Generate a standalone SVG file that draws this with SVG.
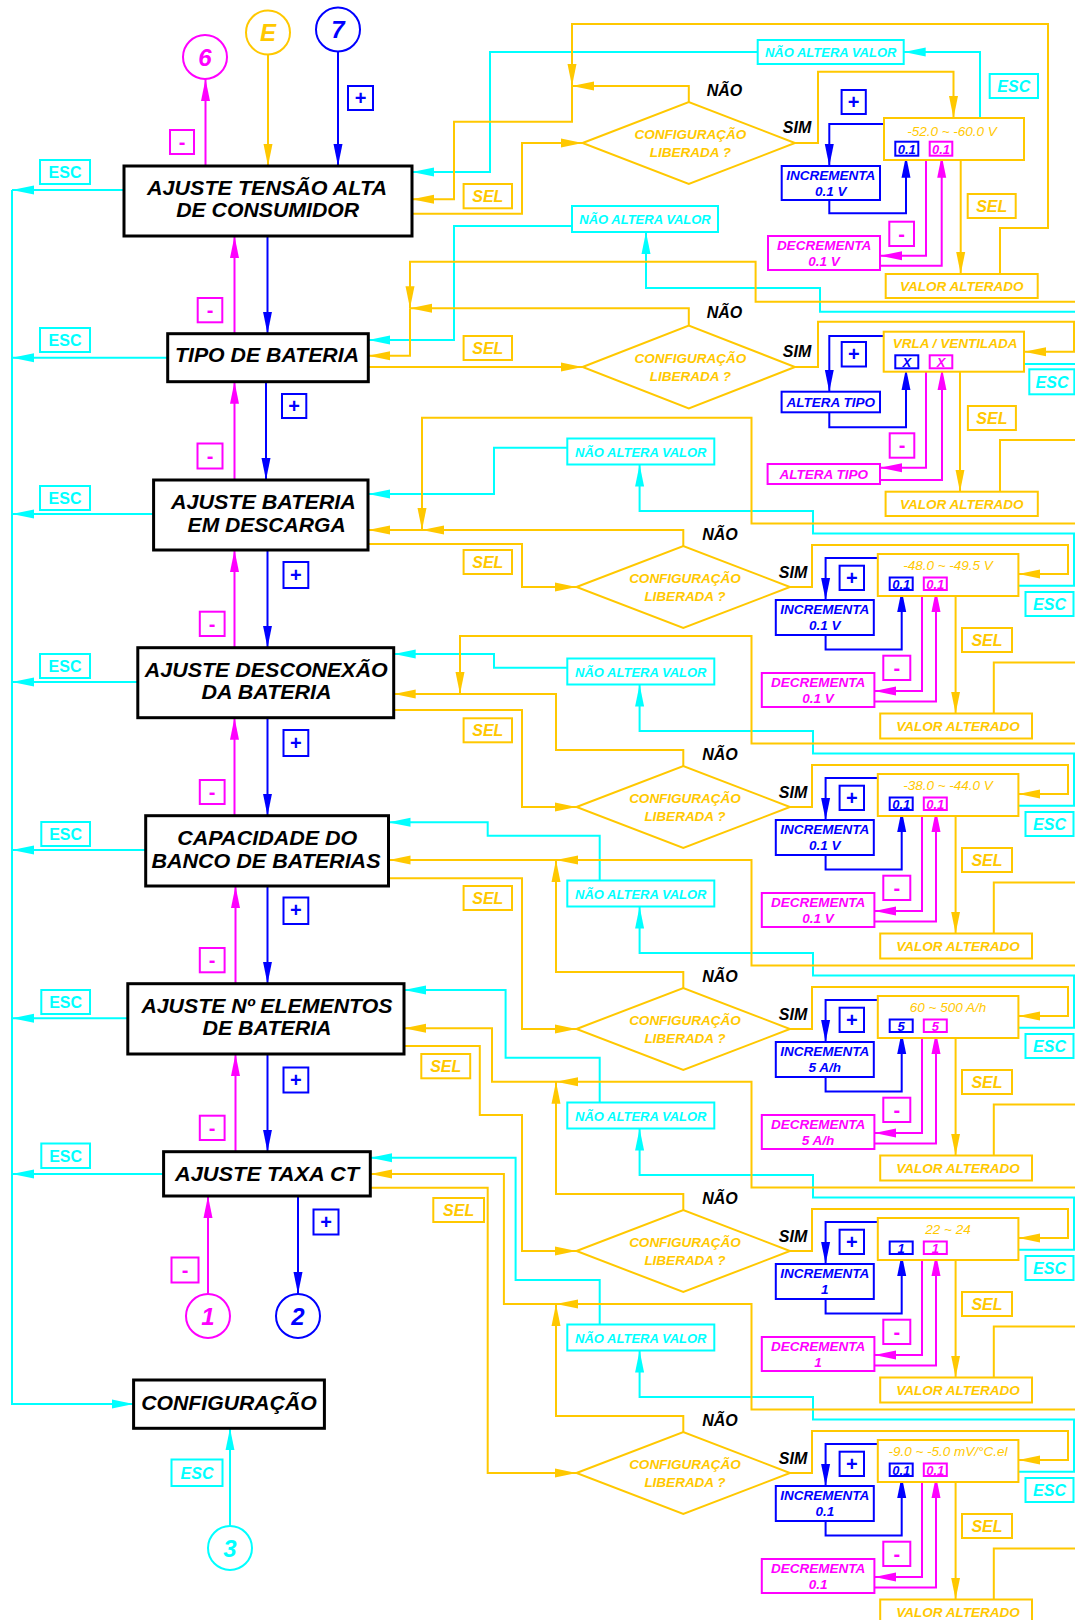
<svg xmlns="http://www.w3.org/2000/svg" width="1075" height="1620" viewBox="0 0 1075 1620">
<defs>
<style>
.ln{fill:none;stroke-width:2}
.kc{stroke:#00FFFF}.ky{stroke:#FFC800}.kb{stroke:#0000FF}.km{stroke:#FF00FF}
.nd{fill:#fff;stroke:#000;stroke-width:3}
.bx{fill:#fff;stroke-width:2}
.dm{fill:#fff;stroke:#FFC800;stroke-width:2}
.cir{fill:#fff;stroke-width:2}
text{font-family:"Liberation Sans",Arial,Helvetica,sans-serif;font-weight:bold;font-style:italic;text-anchor:middle}
.tt{font-size:21px;fill:#000}
.tc{fill:#00FFFF}.ty{fill:#FFC800}.tb{fill:#0000FF}.tm{fill:#FF00FF}.tk{fill:#000}
.esc{font-size:16px;fill:#00FFFF}
.up{font-style:normal}
.sel{font-size:16px;fill:#FFC800}
.pm{font-size:20px;font-style:normal}
.s13{font-size:13.5px}
.nav{font-size:13px;fill:#00FFFF}
.val{font-size:13.5px;fill:#FFC800;font-weight:normal}
.sm{font-size:13px}
.yn{font-size:16px;fill:#000}
.num{font-size:24px}
</style>
<marker id="ac" viewBox="0 0 22 10" markerWidth="22" markerHeight="10" refX="22" refY="5" orient="auto" markerUnits="userSpaceOnUse"><path d="M0,0.5L22,5L0,9.5z" fill="#00FFFF"/></marker>
<marker id="ay" viewBox="0 0 22 10" markerWidth="22" markerHeight="10" refX="22" refY="5" orient="auto" markerUnits="userSpaceOnUse"><path d="M0,0.5L22,5L0,9.5z" fill="#FFC800"/></marker>
<marker id="ab" viewBox="0 0 22 10" markerWidth="22" markerHeight="10" refX="22" refY="5" orient="auto" markerUnits="userSpaceOnUse"><path d="M0,0.5L22,5L0,9.5z" fill="#0000FF"/></marker>
<marker id="am" viewBox="0 0 22 10" markerWidth="22" markerHeight="10" refX="22" refY="5" orient="auto" markerUnits="userSpaceOnUse"><path d="M0,0.5L22,5L0,9.5z" fill="#FF00FF"/></marker>
</defs>
<rect width="1075" height="1620" fill="#fff"/>

<!-- ===== connectors ===== -->
<g id="connectors">
  <!-- ESC spine on the left -->
  <path class="ln kc" d="M12,190 V1404 H133.6" marker-end="url(#ac)"/>
  <path class="ln kc" d="M124,190 H12" marker-end="url(#ac)"/>
  <path class="ln kc" d="M167.7,357.7 H12" marker-end="url(#ac)"/>
  <path class="ln kc" d="M153.6,514 H12" marker-end="url(#ac)"/>
  <path class="ln kc" d="M137.8,682 H12" marker-end="url(#ac)"/>
  <path class="ln kc" d="M145.7,850 H12" marker-end="url(#ac)"/>
  <path class="ln kc" d="M127.8,1018.3 H12" marker-end="url(#ac)"/>
  <path class="ln kc" d="M163.6,1174 H12" marker-end="url(#ac)"/>

  <!-- menu navigation: + down, - up -->
  <path class="ln kb" d="M267.5,236 V333.7" marker-end="url(#ab)"/>
  <path class="ln kb" d="M266,381.7 V480" marker-end="url(#ab)"/>
  <path class="ln kb" d="M267.5,550 V647.7" marker-end="url(#ab)"/>
  <path class="ln kb" d="M267.5,717.7 V815.7" marker-end="url(#ab)"/>
  <path class="ln kb" d="M267.5,886 V983.7" marker-end="url(#ab)"/>
  <path class="ln kb" d="M267.5,1054 V1151.7" marker-end="url(#ab)"/>
  <path class="ln km" d="M234.5,333.7 V236" marker-end="url(#am)"/>
  <path class="ln km" d="M234.5,480 V381.7" marker-end="url(#am)"/>
  <path class="ln km" d="M234.5,647.7 V550" marker-end="url(#am)"/>
  <path class="ln km" d="M234.5,815.7 V717.7" marker-end="url(#am)"/>
  <path class="ln km" d="M235.5,983.7 V886" marker-end="url(#am)"/>
  <path class="ln km" d="M235.5,1151.7 V1054" marker-end="url(#am)"/>
  <path class="ln km" d="M205.5,166 V79" marker-end="url(#am)"/>
  <path class="ln ky" d="M268,54.5 V166" marker-end="url(#ay)"/>
  <path class="ln kb" d="M338,51.5 V166" marker-end="url(#ab)"/>
  <path class="ln km" d="M208,1294 V1196" marker-end="url(#am)"/>
  <path class="ln kb" d="M298,1196 V1294" marker-end="url(#ab)"/>
  <path class="ln kc" d="M230,1526 V1428.3" marker-end="url(#ac)"/>

  <!-- section 1 -->
  <path class="ln kc" d="M757.7,52 H490 V172 H412" marker-end="url(#ac)"/>
  <path class="ln kc" d="M980,118 V52 H903.7" marker-end="url(#ac)"/>
  <path class="ln ky" d="M1000,274 V228 H1048 V24 H572 V86" marker-end="url(#ay)"/>
  <path class="ln ky" d="M688.8,102 V86 H572" marker-end="url(#ay)"/>
  <path class="ln ky" d="M572,86 V121.7 H454 V199.3 H412" marker-end="url(#ay)"/>
  <path class="ln ky" d="M412,213.7 H522 V143 H582.6" marker-end="url(#ay)"/>
  <path class="ln ky" d="M795,143 H818 V71.7 H953.5 V118" marker-end="url(#ay)"/>
  <path class="ln kb" d="M884,124 H829.3 V166" marker-end="url(#ab)"/>
  <path class="ln kb" d="M829.3,200 V213.3 H906 V155.7" marker-end="url(#ab)"/>
  <path class="ln km" d="M926,160 V255.7 H880" marker-end="url(#am)"/>
  <path class="ln km" d="M880,265.7 H941.7 V155.7" marker-end="url(#am)"/>
  <path class="ln ky" d="M960.7,160 V274" marker-end="url(#ay)"/>

  <!-- section 2 -->
  <path class="ln kc" d="M572,226 H454 V340 H368.3" marker-end="url(#ac)"/>
  <path class="ln kc" d="M1075,311.7 H820 V288 H646 V232" marker-end="url(#ac)"/>
  <path class="ln kc" d="M1024,364 H1075"/>
  <path class="ln ky" d="M1075,301.7 H755.6 V261.7 H410 V308.3" marker-end="url(#ay)"/>
  <path class="ln ky" d="M688.8,325.5 V308.3 H410" marker-end="url(#ay)"/>
  <path class="ln ky" d="M410,308.3 V355.7 H368.3" marker-end="url(#ay)"/>
  <path class="ln ky" d="M368.3,367 H582.6" marker-end="url(#ay)"/>
  <path class="ln ky" d="M795,367 H818 V321.7 H1074 V351.7 H1024" marker-end="url(#ay)"/>
  <path class="ln kb" d="M883.7,336 H829.3 V391.7" marker-end="url(#ab)"/>
  <path class="ln kb" d="M829.3,412.3 V427.3 H906 V368.3" marker-end="url(#ab)"/>
  <path class="ln km" d="M926,371.7 V467.7 H880" marker-end="url(#am)"/>
  <path class="ln km" d="M880,480 H942 V368.3" marker-end="url(#am)"/>
  <path class="ln ky" d="M960,371.7 V491.7" marker-end="url(#ay)"/>
  <path class="ln ky" d="M1000,491.7 V440 H1075"/>

  <!-- section 3 -->
  <path class="ln kc" d="M567.3,447.7 H494 V494 H368" marker-end="url(#ac)"/>
  <path class="ln kc" d="M1018.4,585.7 H1074 V533.5 H813 V511 H639.6 V464.5" marker-end="url(#ac)"/>
  <path class="ln ky" d="M1075,523.5 H751.5 V417.7 H422 V530" marker-end="url(#ay)"/>
  <path class="ln ky" d="M683.3,546 V530 H422" marker-end="url(#ay)"/>
  <path class="ln ky" d="M422,530 H368" marker-end="url(#ay)"/>
  <path class="ln ky" d="M368,544 H522 V587 H576.5" marker-end="url(#ay)"/>
  <path class="ln ky" d="M790,587 H812 V545 H1068 V574 H1018.4" marker-end="url(#ay)"/>
  <path class="ln kb" d="M877.8,558 H825.6 V600" marker-end="url(#ab)"/>
  <path class="ln kb" d="M825.6,635 V649.5 H901.7 V590" marker-end="url(#ab)"/>
  <path class="ln km" d="M922,596 V691 H874.4" marker-end="url(#am)"/>
  <path class="ln km" d="M874.4,701.5 H936 V590" marker-end="url(#am)"/>
  <path class="ln ky" d="M955.6,596 V713.5" marker-end="url(#ay)"/>
  <path class="ln ky" d="M993.8,713.5 V662.5 H1075"/>

  <!-- section 4 -->
  <path class="ln kc" d="M567.3,667.7 H494 V654 H393.7" marker-end="url(#ac)"/>
  <path class="ln kc" d="M1018.4,805.7 H1074 V753.5 H813 V731 H639.6 V684.5" marker-end="url(#ac)"/>
  <path class="ln ky" d="M1075,743.5 H751.5 V636 H460 V694" marker-end="url(#ay)"/>
  <path class="ln ky" d="M683.3,766 V750 H556 V694 H393.7" marker-end="url(#ay)"/>
  <path class="ln ky" d="M393.7,710 H522 V807 H576.5" marker-end="url(#ay)"/>
  <path class="ln ky" d="M790,807 H812 V765 H1068 V794 H1018.4" marker-end="url(#ay)"/>
  <path class="ln kb" d="M877.8,778 H825.6 V820" marker-end="url(#ab)"/>
  <path class="ln kb" d="M825.6,855 V869.5 H901.7 V810" marker-end="url(#ab)"/>
  <path class="ln km" d="M922,816 V911 H874.4" marker-end="url(#am)"/>
  <path class="ln km" d="M874.4,921.5 H936 V810" marker-end="url(#am)"/>
  <path class="ln ky" d="M955.6,816 V933.5" marker-end="url(#ay)"/>
  <path class="ln ky" d="M993.8,933.5 V882.5 H1075"/>

  <!-- section 5 -->
  <path class="ln kc" d="M599.7,880.5 V835.7 H487.7 V822.3 H388.5" marker-end="url(#ac)"/>
  <path class="ln kc" d="M1018.4,1027.7 H1074 V975.5 H813 V953 H639.6 V906.5" marker-end="url(#ac)"/>
  <path class="ln ky" d="M1075,965.5 H751.5 V860 H556" marker-end="url(#ay)"/>
  <path class="ln ky" d="M683.3,988 V972 H556 V860" marker-end="url(#ay)"/>
  <path class="ln ky" d="M556,860 H388.5" marker-end="url(#ay)"/>
  <path class="ln ky" d="M388.5,878.3 H522 V1029 H576.5" marker-end="url(#ay)"/>
  <path class="ln ky" d="M790,1029 H812 V987 H1068 V1016 H1018.4" marker-end="url(#ay)"/>
  <path class="ln kb" d="M877.8,1000 H825.6 V1042" marker-end="url(#ab)"/>
  <path class="ln kb" d="M825.6,1077 V1091.5 H901.7 V1032" marker-end="url(#ab)"/>
  <path class="ln km" d="M922,1038 V1133 H874.4" marker-end="url(#am)"/>
  <path class="ln km" d="M874.4,1143.5 H936 V1032" marker-end="url(#am)"/>
  <path class="ln ky" d="M955.6,1038 V1155.5" marker-end="url(#ay)"/>
  <path class="ln ky" d="M993.8,1155.5 V1104.5 H1075"/>

  <!-- section 6 -->
  <path class="ln kc" d="M599.7,1102.5 V1057.7 H505.6 V990 H404" marker-end="url(#ac)"/>
  <path class="ln kc" d="M1018.4,1249.7 H1074 V1197.5 H813 V1175 H639.6 V1128.5" marker-end="url(#ac)"/>
  <path class="ln ky" d="M1075,1187.5 H751.5 V1081.7 H556" marker-end="url(#ay)"/>
  <path class="ln ky" d="M683.3,1210 V1194 H556 V1081.7" marker-end="url(#ay)"/>
  <path class="ln ky" d="M556,1081.7 H492 V1028.3 H404" marker-end="url(#ay)"/>
  <path class="ln ky" d="M404,1046 H479.8 V1115 H522 V1251 H576.5" marker-end="url(#ay)"/>
  <path class="ln ky" d="M790,1251 H812 V1209 H1068 V1238 H1018.4" marker-end="url(#ay)"/>
  <path class="ln kb" d="M877.8,1222 H825.6 V1264" marker-end="url(#ab)"/>
  <path class="ln kb" d="M825.6,1299 V1313.5 H901.7 V1254" marker-end="url(#ab)"/>
  <path class="ln km" d="M922,1260 V1355 H874.4" marker-end="url(#am)"/>
  <path class="ln km" d="M874.4,1365.5 H936 V1254" marker-end="url(#am)"/>
  <path class="ln ky" d="M955.6,1260 V1377.5" marker-end="url(#ay)"/>
  <path class="ln ky" d="M993.8,1377.5 V1326.5 H1075"/>

  <!-- section 7 -->
  <path class="ln kc" d="M599.7,1324.5 V1280 H515.6 V1157.7 H370.3" marker-end="url(#ac)"/>
  <path class="ln kc" d="M1018.4,1471.7 H1074 V1419.5 H813 V1397 H639.6 V1350.5" marker-end="url(#ac)"/>
  <path class="ln ky" d="M1075,1409.5 H751.5 V1304 H556" marker-end="url(#ay)"/>
  <path class="ln ky" d="M683.3,1432 V1416 H556 V1304" marker-end="url(#ay)"/>
  <path class="ln ky" d="M556,1304 H503.9 V1174 H370.3" marker-end="url(#ay)"/>
  <path class="ln ky" d="M370.3,1187.7 H487.7 V1473 H576.5" marker-end="url(#ay)"/>
  <path class="ln ky" d="M790,1473 H812 V1431 H1068 V1460 H1018.4" marker-end="url(#ay)"/>
  <path class="ln kb" d="M877.8,1444 H825.6 V1486" marker-end="url(#ab)"/>
  <path class="ln kb" d="M825.6,1521 V1535.5 H901.7 V1476" marker-end="url(#ab)"/>
  <path class="ln km" d="M922,1482 V1577 H874.4" marker-end="url(#am)"/>
  <path class="ln km" d="M874.4,1587.5 H936 V1476" marker-end="url(#am)"/>
  <path class="ln ky" d="M955.6,1482 V1599.5" marker-end="url(#ay)"/>
  <path class="ln ky" d="M993.8,1599.5 V1548.5 H1075"/>
</g>

<!-- ===== key labels on connectors ===== -->
<g id="connector-labels">
  <!-- ESC, left column -->
  <rect class="bx kc" x="40" y="160" width="50" height="24"/><text class="esc up" x="65" y="177.5">ESC</text>
  <rect class="bx kc" x="40" y="328" width="50" height="24"/><text class="esc up" x="65" y="345.5">ESC</text>
  <rect class="bx kc" x="40" y="486" width="50" height="24"/><text class="esc up" x="65" y="503.5">ESC</text>
  <rect class="bx kc" x="40" y="654" width="50" height="24"/><text class="esc up" x="65" y="671.5">ESC</text>
  <rect class="bx kc" x="41.3" y="822" width="48.7" height="24"/><text class="esc up" x="65.6" y="839.5">ESC</text>
  <rect class="bx kc" x="41.3" y="990" width="48.7" height="24"/><text class="esc up" x="65.6" y="1007.5">ESC</text>
  <rect class="bx kc" x="41.3" y="1143.5" width="48.7" height="24.5"/><text class="esc up" x="65.6" y="1161.5">ESC</text>
  <rect class="bx kc" x="171.5" y="1459.5" width="51" height="26.5"/><text class="esc" x="197" y="1478.5">ESC</text>
  <!-- + / - keys, left column -->
  <rect class="bx km" x="170" y="130" width="24" height="24"/><text class="pm tm" x="182" y="148.5">-</text>
  <rect class="bx kb" x="348" y="86" width="25" height="24"/><text class="pm tb" x="360.5" y="104.5">+</text>
  <rect class="bx km" x="197.7" y="298" width="24.6" height="24.3"/><text class="pm tm" x="210" y="316.5">-</text>
  <rect class="bx kb" x="282" y="394" width="24.3" height="24"/><text class="pm tb" x="294.2" y="412.5">+</text>
  <rect class="bx km" x="197.5" y="443.5" width="25" height="25"/><text class="pm tm" x="210" y="462.5">-</text>
  <rect class="bx kb" x="283.5" y="562" width="24.8" height="26"/><text class="pm tb" x="295.9" y="581.5">+</text>
  <rect class="bx km" x="199.8" y="611.7" width="24.8" height="24.3"/><text class="pm tm" x="212.2" y="630.5">-</text>
  <rect class="bx kb" x="283.5" y="730" width="24.8" height="26"/><text class="pm tb" x="295.9" y="749.5">+</text>
  <rect class="bx km" x="199.8" y="780" width="24.8" height="24"/><text class="pm tm" x="212.2" y="798.5">-</text>
  <rect class="bx kb" x="283.5" y="897.5" width="24.8" height="26.5"/><text class="pm tb" x="295.9" y="917">+</text>
  <rect class="bx km" x="199.8" y="948" width="24.8" height="24.3"/><text class="pm tm" x="212.2" y="966.5">-</text>
  <rect class="bx kb" x="283.5" y="1067.5" width="24.8" height="25"/><text class="pm tb" x="295.9" y="1086.5">+</text>
  <rect class="bx km" x="199.8" y="1115.7" width="24.8" height="24.3"/><text class="pm tm" x="212.2" y="1134.5">-</text>
  <rect class="bx km" x="171.5" y="1257.5" width="27" height="25"/><text class="pm tm" x="185" y="1276.5">-</text>
  <rect class="bx kb" x="313.5" y="1209.5" width="25" height="25"/><text class="pm tb" x="326" y="1228.5">+</text>
  <!-- SEL, left column -->
  <rect class="bx ky" x="463.6" y="184" width="48.4" height="24.3"/><text class="sel" x="487.8" y="202">SEL</text>
  <rect class="bx ky" x="463.6" y="336" width="48.4" height="24"/><text class="sel" x="487.8" y="353.8">SEL</text>
  <rect class="bx ky" x="463.6" y="550" width="48.4" height="24"/><text class="sel" x="487.8" y="567.8">SEL</text>
  <rect class="bx ky" x="463.6" y="718.3" width="48.4" height="24"/><text class="sel" x="487.8" y="736">SEL</text>
  <rect class="bx ky" x="463.6" y="886" width="48.4" height="24"/><text class="sel" x="487.8" y="903.8">SEL</text>
  <rect class="bx ky" x="421.3" y="1054" width="48.9" height="24.3"/><text class="sel" x="445.7" y="1072">SEL</text>
  <rect class="bx ky" x="433.3" y="1198" width="50.7" height="24"/><text class="sel" x="458.6" y="1215.8">SEL</text>
  <!-- keys inside the settings loops -->
  <rect class="bx kb" x="841.6" y="90" width="24.2" height="24"/><text class="pm tb" x="853.7" y="108.5">+</text>
  <rect class="bx km" x="889.3" y="221.7" width="24.7" height="24.3"/><text class="pm tm" x="901.6" y="240.5">-</text>
  <rect class="bx ky" x="967.7" y="194" width="48" height="24"/><text class="sel" x="991.7" y="211.8">SEL</text>
  <rect class="bx kc" x="989.7" y="74" width="48.3" height="24"/><text class="esc" x="1013.8" y="91.8">ESC</text>

  <rect class="bx kb" x="841.7" y="342" width="24.3" height="24.5"/><text class="pm tb" x="853.8" y="360.8">+</text>
  <rect class="bx km" x="889.7" y="433.3" width="24.6" height="24.4"/><text class="pm tm" x="902" y="452">-</text>
  <rect class="bx ky" x="967.9" y="406" width="48" height="24"/><text class="sel" x="991.9" y="423.8">SEL</text>
  <rect class="bx kc" x="1029.3" y="369.3" width="45" height="25"/><text class="esc" x="1052" y="387.8">ESC</text>

  <rect class="bx kb" x="839.6" y="565.7" width="24.4" height="24.3"/><text class="pm tb" x="851.8" y="584.5">+</text>
  <rect class="bx km" x="883.3" y="655.7" width="27" height="24.3"/><text class="pm tm" x="896.8" y="674.5">-</text>
  <rect class="bx ky" x="962" y="628" width="50" height="24"/><text class="sel" x="987" y="645.8">SEL</text>
  <rect class="bx kc" x="1025.5" y="592" width="48" height="24"/><text class="esc" x="1049.5" y="609.8">ESC</text>

  <rect class="bx kb" x="839.6" y="785.7" width="24.4" height="24.3"/><text class="pm tb" x="851.8" y="804.5">+</text>
  <rect class="bx km" x="883.3" y="875.7" width="27" height="24.3"/><text class="pm tm" x="896.8" y="894.5">-</text>
  <rect class="bx ky" x="962" y="848" width="50" height="24"/><text class="sel" x="987" y="865.8">SEL</text>
  <rect class="bx kc" x="1025.5" y="812" width="48" height="24"/><text class="esc" x="1049.5" y="829.8">ESC</text>

  <rect class="bx kb" x="839.6" y="1007.7" width="24.4" height="24.3"/><text class="pm tb" x="851.8" y="1026.5">+</text>
  <rect class="bx km" x="883.3" y="1097.7" width="27" height="24.3"/><text class="pm tm" x="896.8" y="1116.5">-</text>
  <rect class="bx ky" x="962" y="1070" width="50" height="24"/><text class="sel" x="987" y="1087.8">SEL</text>
  <rect class="bx kc" x="1025.5" y="1034" width="48" height="24"/><text class="esc" x="1049.5" y="1051.8">ESC</text>

  <rect class="bx kb" x="839.6" y="1229.7" width="24.4" height="24.3"/><text class="pm tb" x="851.8" y="1248.5">+</text>
  <rect class="bx km" x="883.3" y="1319.7" width="27" height="24.3"/><text class="pm tm" x="896.8" y="1338.5">-</text>
  <rect class="bx ky" x="962" y="1292" width="50" height="24"/><text class="sel" x="987" y="1309.8">SEL</text>
  <rect class="bx kc" x="1025.5" y="1256" width="48" height="24"/><text class="esc" x="1049.5" y="1273.8">ESC</text>

  <rect class="bx kb" x="839.6" y="1451.7" width="24.4" height="24.3"/><text class="pm tb" x="851.8" y="1470.5">+</text>
  <rect class="bx km" x="883.3" y="1541.7" width="27" height="24.3"/><text class="pm tm" x="896.8" y="1560.5">-</text>
  <rect class="bx ky" x="962" y="1514" width="50" height="24"/><text class="sel" x="987" y="1531.8">SEL</text>
  <rect class="bx kc" x="1025.5" y="1478" width="48" height="24"/><text class="esc" x="1049.5" y="1495.8">ESC</text>

  <!-- answers at the decision diamonds -->
  <text class="yn" x="724.5" y="96">NÃO</text><text class="yn" x="797" y="133">SIM</text>
  <text class="yn" x="724.5" y="318">NÃO</text><text class="yn" x="797" y="356.5">SIM</text>
  <text class="yn" x="720" y="540">NÃO</text><text class="yn" x="793" y="577.5">SIM</text>
  <text class="yn" x="720" y="760">NÃO</text><text class="yn" x="793" y="797.5">SIM</text>
  <text class="yn" x="720" y="982">NÃO</text><text class="yn" x="793" y="1019.5">SIM</text>
  <text class="yn" x="720" y="1204">NÃO</text><text class="yn" x="793" y="1241.5">SIM</text>
  <text class="yn" x="720" y="1426">NÃO</text><text class="yn" x="793" y="1463.5">SIM</text>
</g>

<!-- ===== connectors' end points ===== -->
<g id="c6"><circle class="cir km" cx="205" cy="57" r="22"/><text class="num tm" x="205" y="65.5">6</text></g>
<g id="cE"><circle class="cir ky" cx="268" cy="32.5" r="22"/><text class="num ty" x="268" y="41">E</text></g>
<g id="c7"><circle class="cir kb" cx="338" cy="29.5" r="22"/><text class="num tb" x="338" y="38">7</text></g>
<g id="c1"><circle class="cir km" cx="208" cy="1316" r="22"/><text class="num tm" x="208" y="1324.5">1</text></g>
<g id="c2"><circle class="cir kb" cx="298" cy="1316" r="22"/><text class="num tb" x="298" y="1324.5">2</text></g>
<g id="c3"><circle class="cir kc" cx="230" cy="1548" r="22"/><text class="num tc" x="230" y="1556.5">3</text></g>

<!-- ===== menu screens ===== -->
<g id="n-tensao-alta">
  <rect class="nd" x="124" y="166" width="288" height="70"/>
  <text class="tt" x="267" y="195" textLength="240" lengthAdjust="spacingAndGlyphs">AJUSTE TENSÃO ALTA</text>
  <text class="tt" x="267.7" y="216.7" textLength="183" lengthAdjust="spacingAndGlyphs">DE CONSUMIDOR</text>
</g>
<g id="n-tipo-bateria">
  <rect class="nd" x="167.7" y="333.7" width="200.6" height="48"/>
  <text class="tt" x="267" y="362.3" textLength="184" lengthAdjust="spacingAndGlyphs">TIPO DE BATERIA</text>
</g>
<g id="n-bateria-descarga">
  <rect class="nd" x="153.6" y="480" width="214.4" height="70"/>
  <text class="tt" x="263.4" y="509.3" textLength="185" lengthAdjust="spacingAndGlyphs">AJUSTE BATERIA</text>
  <text class="tt" x="266.6" y="531.7" textLength="158" lengthAdjust="spacingAndGlyphs">EM DESCARGA</text>
</g>
<g id="n-desconexao">
  <rect class="nd" x="137.8" y="647.7" width="255.9" height="70"/>
  <text class="tt" x="266.3" y="676.7" textLength="243" lengthAdjust="spacingAndGlyphs">AJUSTE DESCONEXÃO</text>
  <text class="tt" x="266.6" y="699.3" textLength="130" lengthAdjust="spacingAndGlyphs">DA BATERIA</text>
</g>
<g id="n-capacidade">
  <rect class="nd" x="145.7" y="815.7" width="242.8" height="70.3"/>
  <text class="tt" x="267.3" y="845" textLength="180" lengthAdjust="spacingAndGlyphs">CAPACIDADE DO</text>
  <text class="tt" x="266" y="868.3" textLength="229" lengthAdjust="spacingAndGlyphs">BANCO DE BATERIAS</text>
</g>
<g id="n-elementos">
  <rect class="nd" x="127.8" y="983.7" width="276.2" height="70.3"/>
  <text class="tt" x="266.9" y="1013.3" textLength="251" lengthAdjust="spacingAndGlyphs">AJUSTE Nº ELEMENTOS</text>
  <text class="tt" x="267" y="1035" textLength="129" lengthAdjust="spacingAndGlyphs">DE BATERIA</text>
</g>
<g id="n-taxa-ct">
  <rect class="nd" x="163.6" y="1151.7" width="206.7" height="44.3"/>
  <text class="tt" x="267" y="1181" textLength="184" lengthAdjust="spacingAndGlyphs">AJUSTE TAXA CT</text>
</g>
<g id="n-configuracao">
  <rect class="nd" x="133.6" y="1380" width="190.8" height="48.3"/>
  <text class="tt" x="229" y="1410" textLength="175.6" lengthAdjust="spacingAndGlyphs">CONFIGURAÇÃO</text>
</g>

<!-- ===== section 1: tensão alta ===== -->
<g id="s1-nao-altera"><rect class="bx kc" x="757.7" y="40" width="146" height="24"/><text class="nav" x="830.7" y="57">NÃO ALTERA VALOR</text></g>
<g id="s1-decisao"><polygon class="dm" points="582.6,143 688.8,102 795,143 688.8,184"/><text class="s13 ty" x="690.3" y="139">CONFIGURAÇÃO</text><text class="s13 ty" x="690.3" y="157">LIBERADA ?</text></g>
<g id="s1-valor">
  <rect class="bx ky" x="884" y="118" width="140" height="42"/><text class="val" x="952" y="136">-52.0 ~ -60.0 V</text>
  <rect class="bx kb" x="895.3" y="141.7" width="23" height="14"/><text class="sm tb" x="906.8" y="153.5">0.1</text>
  <rect class="bx km" x="929.7" y="141.7" width="22.6" height="14"/><text class="sm tm" x="941" y="153.5">0.1</text>
</g>
<g id="s1-incrementa"><rect class="bx kb" x="781.7" y="166" width="98.3" height="34"/><text class="s13 tb" x="830.8" y="180">INCREMENTA</text><text class="s13 tb" x="830.8" y="196">0.1 V</text></g>
<g id="s1-decrementa"><rect class="bx km" x="768" y="236" width="112" height="34"/><text class="s13 tm" x="824" y="250">DECREMENTA</text><text class="s13 tm" x="824" y="265.5">0.1 V</text></g>
<g id="s1-alterado"><rect class="bx ky" x="885.7" y="274" width="152" height="24"/><text class="s13 ty" x="961.7" y="291">VALOR ALTERADO</text></g>

<!-- ===== section 2: tipo de bateria ===== -->
<g id="s2-nao-altera"><rect class="bx kc" x="572" y="206" width="146" height="26"/><text class="nav" x="645" y="224">NÃO ALTERA VALOR</text></g>
<g id="s2-decisao"><polygon class="dm" points="582.6,367 688.8,325.5 795,367 688.8,408.5"/><text class="s13 ty" x="690.3" y="363">CONFIGURAÇÃO</text><text class="s13 ty" x="690.3" y="381">LIBERADA ?</text></g>
<g id="s2-valor">
  <rect class="bx ky" x="883.7" y="331.7" width="140.3" height="40"/><text class="s13 ty" x="955" y="348.3">VRLA / VENTILADA</text>
  <rect class="bx kb" x="895.3" y="355.3" width="23" height="13"/><text class="sm tb" x="906.8" y="366.5">X</text>
  <rect class="bx km" x="929.7" y="355.3" width="22.6" height="13"/><text class="sm tm" x="941" y="366.5">X</text>
</g>
<g id="s2-altera-mais"><rect class="bx kb" x="781.6" y="391.7" width="98.4" height="20.6"/><text class="s13 tb" x="830.8" y="406.8">ALTERA TIPO</text></g>
<g id="s2-altera-menos"><rect class="bx km" x="767.6" y="464" width="112.4" height="20"/><text class="s13 tm" x="823.8" y="478.8">ALTERA TIPO</text></g>
<g id="s2-alterado"><rect class="bx ky" x="885.6" y="491.7" width="152.2" height="24.3"/><text class="s13 ty" x="961.7" y="509">VALOR ALTERADO</text></g>

<!-- ===== section 3: bateria em descarga ===== -->
<g id="s3-nao-altera"><rect class="bx kc" x="567.3" y="438.5" width="147" height="26"/><text class="nav" x="640.8" y="456.5">NÃO ALTERA VALOR</text></g>
<g id="s3-decisao"><polygon class="dm" points="576.5,587 683.3,546 790,587 683.3,628"/><text class="s13 ty" x="685" y="583">CONFIGURAÇÃO</text><text class="s13 ty" x="685" y="601">LIBERADA ?</text></g>
<g id="s3-valor">
  <rect class="bx ky" x="877.8" y="554" width="140.6" height="42"/><text class="val" x="948" y="570">-48.0 ~ -49.5 V</text>
  <rect class="bx kb" x="889.7" y="577.5" width="23" height="12.5"/><text class="sm tb" x="901.2" y="588.5">0.1</text>
  <rect class="bx km" x="923.8" y="577.5" width="23" height="12.5"/><text class="sm tm" x="935.3" y="588.5">0.1</text>
</g>
<g id="s3-incrementa"><rect class="bx kb" x="775.8" y="600" width="98" height="35"/><text class="s13 tb" x="824.8" y="614">INCREMENTA</text><text class="s13 tb" x="824.8" y="630">0.1 V</text></g>
<g id="s3-decrementa"><rect class="bx km" x="761.8" y="673" width="112.6" height="34"/><text class="s13 tm" x="818.1" y="687">DECREMENTA</text><text class="s13 tm" x="818.1" y="702.5">0.1 V</text></g>
<g id="s3-alterado"><rect class="bx ky" x="880.2" y="713.5" width="151.8" height="25"/><text class="s13 ty" x="958" y="731">VALOR ALTERADO</text></g>

<!-- ===== section 4: desconexão da bateria ===== -->
<g id="s4-nao-altera"><rect class="bx kc" x="567.3" y="658.5" width="147" height="26"/><text class="nav" x="640.8" y="676.5">NÃO ALTERA VALOR</text></g>
<g id="s4-decisao"><polygon class="dm" points="576.5,807 683.3,766 790,807 683.3,848"/><text class="s13 ty" x="685" y="803">CONFIGURAÇÃO</text><text class="s13 ty" x="685" y="821">LIBERADA ?</text></g>
<g id="s4-valor">
  <rect class="bx ky" x="877.8" y="774" width="140.6" height="42"/><text class="val" x="948" y="790">-38.0 ~ -44.0 V</text>
  <rect class="bx kb" x="889.7" y="797.5" width="23" height="12.5"/><text class="sm tb" x="901.2" y="808.5">0.1</text>
  <rect class="bx km" x="923.8" y="797.5" width="23" height="12.5"/><text class="sm tm" x="935.3" y="808.5">0.1</text>
</g>
<g id="s4-incrementa"><rect class="bx kb" x="775.8" y="820" width="98" height="35"/><text class="s13 tb" x="824.8" y="834">INCREMENTA</text><text class="s13 tb" x="824.8" y="850">0.1 V</text></g>
<g id="s4-decrementa"><rect class="bx km" x="761.8" y="893" width="112.6" height="34"/><text class="s13 tm" x="818.1" y="907">DECREMENTA</text><text class="s13 tm" x="818.1" y="922.5">0.1 V</text></g>
<g id="s4-alterado"><rect class="bx ky" x="880.2" y="933.5" width="151.8" height="25"/><text class="s13 ty" x="958" y="951">VALOR ALTERADO</text></g>

<!-- ===== section 5: capacidade do banco ===== -->
<g id="s5-nao-altera"><rect class="bx kc" x="567.3" y="880.5" width="147" height="26"/><text class="nav" x="640.8" y="898.5">NÃO ALTERA VALOR</text></g>
<g id="s5-decisao"><polygon class="dm" points="576.5,1029 683.3,988 790,1029 683.3,1070"/><text class="s13 ty" x="685" y="1025">CONFIGURAÇÃO</text><text class="s13 ty" x="685" y="1043">LIBERADA ?</text></g>
<g id="s5-valor">
  <rect class="bx ky" x="877.8" y="996" width="140.6" height="42"/><text class="val" x="948" y="1012">60 ~ 500 A/h</text>
  <rect class="bx kb" x="889.7" y="1019.5" width="23" height="12.5"/><text class="sm tb" x="901.2" y="1030.5">5</text>
  <rect class="bx km" x="923.8" y="1019.5" width="23" height="12.5"/><text class="sm tm" x="935.3" y="1030.5">5</text>
</g>
<g id="s5-incrementa"><rect class="bx kb" x="775.8" y="1042" width="98" height="35"/><text class="s13 tb" x="824.8" y="1056">INCREMENTA</text><text class="s13 tb" x="824.8" y="1072">5 A/h</text></g>
<g id="s5-decrementa"><rect class="bx km" x="761.8" y="1115" width="112.6" height="34"/><text class="s13 tm" x="818.1" y="1129">DECREMENTA</text><text class="s13 tm" x="818.1" y="1144.5">5 A/h</text></g>
<g id="s5-alterado"><rect class="bx ky" x="880.2" y="1155.5" width="151.8" height="25"/><text class="s13 ty" x="958" y="1173">VALOR ALTERADO</text></g>

<!-- ===== section 6: nº de elementos ===== -->
<g id="s6-nao-altera"><rect class="bx kc" x="567.3" y="1102.5" width="147" height="26"/><text class="nav" x="640.8" y="1120.5">NÃO ALTERA VALOR</text></g>
<g id="s6-decisao"><polygon class="dm" points="576.5,1251 683.3,1210 790,1251 683.3,1292"/><text class="s13 ty" x="685" y="1247">CONFIGURAÇÃO</text><text class="s13 ty" x="685" y="1265">LIBERADA ?</text></g>
<g id="s6-valor">
  <rect class="bx ky" x="877.8" y="1218" width="140.6" height="42"/><text class="val" x="948" y="1234">22 ~ 24</text>
  <rect class="bx kb" x="889.7" y="1241.5" width="23" height="12.5"/><text class="sm tb" x="901.2" y="1252.5">1</text>
  <rect class="bx km" x="923.8" y="1241.5" width="23" height="12.5"/><text class="sm tm" x="935.3" y="1252.5">1</text>
</g>
<g id="s6-incrementa"><rect class="bx kb" x="775.8" y="1264" width="98" height="35"/><text class="s13 tb" x="824.8" y="1278">INCREMENTA</text><text class="s13 tb" x="824.8" y="1294">1</text></g>
<g id="s6-decrementa"><rect class="bx km" x="761.8" y="1337" width="112.6" height="34"/><text class="s13 tm" x="818.1" y="1351">DECREMENTA</text><text class="s13 tm" x="818.1" y="1366.5">1</text></g>
<g id="s6-alterado"><rect class="bx ky" x="880.2" y="1377.5" width="151.8" height="25"/><text class="s13 ty" x="958" y="1395">VALOR ALTERADO</text></g>

<!-- ===== section 7: taxa CT ===== -->
<g id="s7-nao-altera"><rect class="bx kc" x="567.3" y="1324.5" width="147" height="26"/><text class="nav" x="640.8" y="1342.5">NÃO ALTERA VALOR</text></g>
<g id="s7-decisao"><polygon class="dm" points="576.5,1473 683.3,1432 790,1473 683.3,1514"/><text class="s13 ty" x="685" y="1469">CONFIGURAÇÃO</text><text class="s13 ty" x="685" y="1487">LIBERADA ?</text></g>
<g id="s7-valor">
  <rect class="bx ky" x="877.8" y="1440" width="140.6" height="42"/><text class="val" x="948" y="1456">-9.0 ~ -5.0 mV/°C.el</text>
  <rect class="bx kb" x="889.7" y="1463.5" width="23" height="12.5"/><text class="sm tb" x="901.2" y="1474.5">0.1</text>
  <rect class="bx km" x="923.8" y="1463.5" width="23" height="12.5"/><text class="sm tm" x="935.3" y="1474.5">0.1</text>
</g>
<g id="s7-incrementa"><rect class="bx kb" x="775.8" y="1486" width="98" height="35"/><text class="s13 tb" x="824.8" y="1500">INCREMENTA</text><text class="s13 tb" x="824.8" y="1516">0.1</text></g>
<g id="s7-decrementa"><rect class="bx km" x="761.8" y="1559" width="112.6" height="34"/><text class="s13 tm" x="818.1" y="1573">DECREMENTA</text><text class="s13 tm" x="818.1" y="1588.5">0.1</text></g>
<g id="s7-alterado"><rect class="bx ky" x="880.2" y="1599.5" width="151.8" height="25"/><text class="s13 ty" x="958" y="1617">VALOR ALTERADO</text></g>
</svg>
